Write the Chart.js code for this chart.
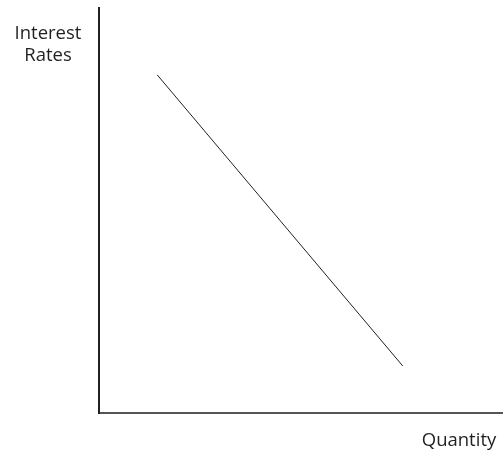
<!DOCTYPE html>
<html>
<head>
<meta charset="utf-8">
<script src="https://cdn.jsdelivr.net/npm/chart.js@4"></script>
<style>
  html, body { margin: 0; padding: 0; background: #fff; }
  #wrap { position: relative; width: 503px; height: 456px; }
  .lbl { position: absolute; font-family: "Open Sans", sans-serif; font-size: 18.5px; color: #231f20; line-height: 22px; text-align: center; }
</style>
</head>
<body>
<div id="wrap">
  <canvas id="chartDemanda" width="503" height="456"></canvas>
  <div class="lbl" style="left:0; top:21px; width:96px;">Interest<br>Rates</div>
  <div class="lbl" style="left:399px; top:428px; width:120px;">Quantity</div>
</div>
<script>
const cantidad = [14.4, 75.2];
const tasas = [83.5, 11.6];

const puntos = cantidad.map((x, i) => ({ x: x, y: tasas[i] }));

document.addEventListener("DOMContentLoaded", () => {
    const ctx = document.getElementById("chartDemanda");

    new Chart(ctx, {
        type: "scatter",
        data: {
            datasets: [{
                data: puntos,
                showLine: true,
                borderColor: "#231f20",
                borderWidth: 1,
                pointRadius: 0
            }]
        },
        options: {
            responsive: false,
            animation: false,
            layout: { padding: { left: 91, top: 8, right: 0, bottom: 35 } },
            plugins: { legend: { display: false }, tooltip: { enabled: false } },
            scales: {
                x: {
                    min: 0, max: 100,
                    ticks: { display: false },
                    grid: { display: false },
                    border: { display: true, color: "#555", width: 2 }
                },
                y: {
                    min: 0, max: 100,
                    ticks: { display: false },
                    grid: { display: false },
                    border: { display: true, color: "#222", width: 2 }
                }
            }
        }
    });
});
</script>
</body>
</html>
